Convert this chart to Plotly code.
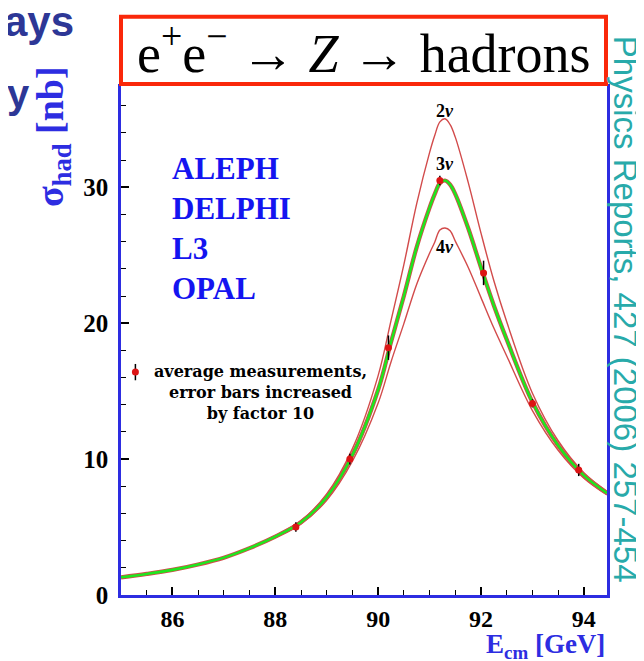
import plotly.graph_objects as go

# ---- data ----
energy = [85.0, 85.5, 86.0, 86.5, 87.0, 87.5, 88.0, 88.5, 89.0, 89.5, 90.0, 90.25,
          90.5, 90.75, 91.0, 91.1, 91.2, 91.3, 91.4, 91.5, 91.75, 92.0, 92.25, 92.5,
          93.0, 93.5, 94.0, 94.45]
sigma_3nu = [1.30, 1.55, 1.85, 2.25, 2.75, 3.45, 4.30, 5.35, 7.20, 10.3, 15.1, 18.6,
             22.0, 25.6, 28.5, 29.5, 30.3, 30.5, 30.2, 29.5, 27.0, 24.1, 21.3, 18.8,
             14.2, 11.0, 8.8, 7.5]
sigma_2nu = [1.31, 1.56, 1.86, 2.27, 2.78, 3.49, 4.37, 5.47, 7.43, 10.77, 16.14, 20.19,
             24.31, 28.8, 32.55, 33.81, 34.81, 35.04, 34.61, 33.69, 30.38, 26.63, 23.12, 20.10,
             14.85, 11.35, 9.0, 7.63]
sigma_4nu = [1.29, 1.54, 1.84, 2.23, 2.72, 3.40, 4.22, 5.23, 6.97, 9.84, 14.12, 17.15,
             19.97, 22.87, 25.15, 25.96, 26.85, 27.0, 26.8, 26.04, 24.12, 21.88, 19.64, 17.59,
             13.57, 10.65, 8.6, 7.37]

meas_energy = [88.4, 89.45, 90.2, 91.2, 92.05, 93.0, 93.9]
meas_sigma = [5.0, 10.0, 18.2, 30.5, 23.7, 14.1, 9.2]
meas_err = [0.35, 0.4, 0.9, 0.35, 0.9, 0.3, 0.45]

legend_pt_x = [85.28]
legend_pt_y = [16.4]
legend_pt_err = [0.6]

x_ticks = [86, 88, 90, 92, 94]
y_ticks = [0, 10, 20, 30]
experiments = ["ALEPH", "DELPHI", "L3", "OPAL"]

RED = "rgb(210,75,75)"
GREEN = "rgb(30,230,30)"
BLUE = "rgb(45,45,225)"
SERIF = "Liberation Serif"

fig = go.Figure()
for ys in (sigma_2nu, sigma_4nu):
    fig.add_trace(go.Scatter(x=energy, y=ys, mode="lines", line=dict(color=RED, width=1.4, shape="spline"),
                             showlegend=False, hoverinfo="skip"))
fig.add_trace(go.Scatter(x=energy, y=sigma_3nu, mode="lines", line=dict(color=RED, width=4.2, shape="spline"),
                         showlegend=False, hoverinfo="skip"))
fig.add_trace(go.Scatter(x=energy, y=sigma_3nu, mode="lines", line=dict(color=GREEN, width=2.6, shape="spline"),
                         showlegend=False, hoverinfo="skip"))
fig.add_trace(go.Scatter(x=meas_energy, y=meas_sigma, mode="markers",
                         marker=dict(color="rgb(220,20,20)", size=7),
                         error_y=dict(type="data", array=meas_err, color="black", thickness=1.5, width=0),
                         showlegend=False))
fig.add_trace(go.Scatter(x=legend_pt_x, y=legend_pt_y, mode="markers",
                         marker=dict(color="rgb(220,20,20)", size=7),
                         error_y=dict(type="data", array=legend_pt_err, color="black", thickness=1.5, width=0),
                         showlegend=False))

fig.update_layout(
    width=644, height=661,
    margin=dict(l=113, r=45, t=76, b=74),
    paper_bgcolor="white", plot_bgcolor="white",
    showlegend=False,
    xaxis=dict(range=[85.0, 94.45], tickvals=x_ticks, ticktext=[str(v) for v in x_ticks],
               ticks="inside", ticklen=8, tickwidth=1.5, tickcolor="black", ticklabelstandoff=0,
               minor=dict(dtick=0.5, ticks="inside", ticklen=5, tickwidth=1, tickcolor="black"),
               showline=True, linecolor=BLUE, linewidth=2.5, mirror=False, showgrid=False, zeroline=False,
               tickfont=dict(family=SERIF, size=24, color="black", weight="bold")),
    yaxis=dict(range=[0, 37.6], tickvals=y_ticks, ticktext=[str(v) for v in y_ticks],
               ticks="inside", ticklen=8, tickwidth=1.5, tickcolor="black", ticklabelstandoff=5,
               minor=dict(dtick=2, ticks="inside", ticklen=5, tickwidth=1, tickcolor="black"),
               showline=True, linecolor=BLUE, linewidth=2.5, mirror=True, showgrid=False, zeroline=False,
               tickfont=dict(family=SERIF, size=25, color="black", weight="bold")),
)

# title box
fig.add_shape(type="rect", xref="paper", yref="paper", x0=0, x1=1.0 - 1/486, y0=1.0, y1=1.0 + 67/510,
              line=dict(color="rgb(250,40,10)", width=4), fillcolor="white", layer="above")
fig.add_annotation(xref="paper", yref="paper", x=0.5, y=1.0 + 34/510, xanchor="center", yanchor="middle",
                   text="e<sup>+</sup>e<sup>\u2212</sup> \u2192 <i>Z</i> \u2192 hadrons", showarrow=False,
                   font=dict(family=SERIF, size=54, color="black"))

# experiment names
for i, name in enumerate(experiments):
    fig.add_annotation(x=85.95, y=31.4 - i * 2.95, xanchor="left", yanchor="middle", text=name,
                       showarrow=False, font=dict(family=SERIF, size=31, color="rgb(20,20,240)", weight="bold"))

# legend text
fig.add_annotation(x=87.72, y=14.9, xanchor="center", yanchor="middle", align="center",
                   text="average measurements,<br>error bars increased<br>by factor 10",
                   showarrow=False,
                   font=dict(family="DejaVu Serif", size=16, color="black", weight="bold"))

# neutrino labels
for lbl, yv in (("2", 35.6), ("3", 31.7), ("4", 25.6)):
    fig.add_annotation(x=91.3, y=yv, text=lbl + "<i>\u03bd</i>", showarrow=False, xanchor="center", yanchor="middle",
                       font=dict(family=SERIF, size=18, color="black", weight="bold"))

# axis titles
fig.add_annotation(xref="paper", yref="paper", x=1.0, y=-0.099, xanchor="right", yanchor="middle",
                   text="E<sub>cm</sub> [GeV]", showarrow=False,
                   font=dict(family=SERIF, size=27, color=BLUE, weight="bold"))
fig.add_annotation(xref="paper", yref="paper", x=-0.14, y=0.898, xanchor="center", yanchor="middle",
                   text="\u03c3<sub>had</sub> [nb]", showarrow=False, textangle=-90,
                   font=dict(family=SERIF, size=38, color=BLUE, weight="bold"))

# side reference
fig.add_annotation(xref="paper", yref="paper", x=1.0 + 18/486, y=0.56, xanchor="center", yanchor="middle",
                   text="Physics Reports, 427 (2006) 257-454", showarrow=False, textangle=90,
                   font=dict(family="Liberation Sans", size=33, color="rgb(40,170,170)"))

# cropped slide text fragments
fig.add_annotation(xref="paper", yref="paper", x=-119/486, y=1.0 + 88/510, xanchor="left", yanchor="top",
                   text="ays", showarrow=False,
                   font=dict(family="Liberation Sans", size=42, color="rgb(45,55,150)", weight="bold"))
fig.add_annotation(xref="paper", yref="paper", x=-113/486 + 24/486, y=1.0 - 10/510, xanchor="right", yanchor="middle",
                   text="y", showarrow=False,
                   font=dict(family="Liberation Sans", size=40, color="rgb(45,55,150)", weight="bold"))

fig.write_html("out.html")
